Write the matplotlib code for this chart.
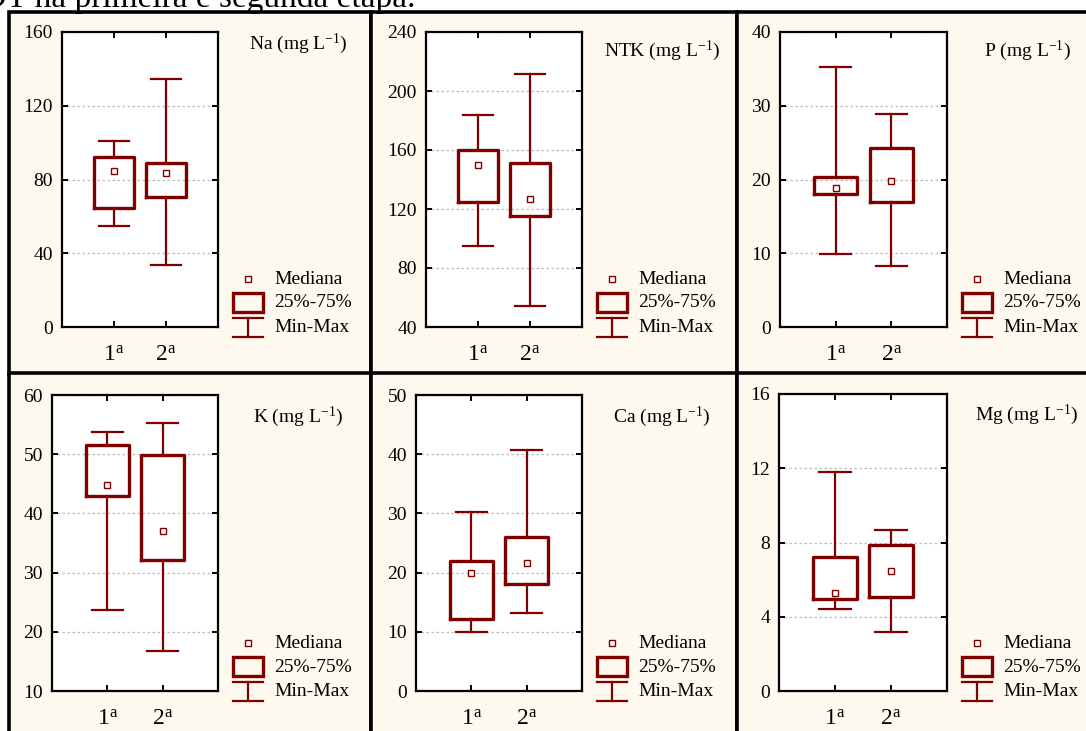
import matplotlib
matplotlib.use("Agg")
import matplotlib.pyplot as plt
from matplotlib.patches import Rectangle
from matplotlib.lines import Line2D
import numpy as np

plt.rcParams['font.family'] = ['Liberation Serif', 'DejaVu Serif']
plt.rcParams['mathtext.fontset'] = 'custom'
plt.rcParams['mathtext.rm'] = 'Liberation Serif'
plt.rcParams['mathtext.it'] = 'Liberation Serif:italic'
plt.rcParams['mathtext.bf'] = 'Liberation Serif:bold'

# ---------------- data ----------------
variables = ["Na", "NTK", "P", "K", "Ca", "Mg"]
stages = ["1$^{\\mathrm{a}}$", "2$^{\\mathrm{a}}$"]
vmin = [[55.0, 33.8], [94.7, 54.0], [9.9, 8.3], [23.7, 16.8], [9.9, 13.1], [4.4, 3.2]]
vq1 = [[64.5, 70.5], [124.7, 115.3], [18.0, 16.9], [43.0, 32.2], [12.2, 18.1], [4.95, 5.04]]
vmed = [[84.4, 83.4], [149.6, 126.6], [18.9, 19.75], [44.8, 37.0], [19.9, 21.6], [5.29, 6.46]]
vq3 = [[92.2, 88.8], [160.2, 151.4], [20.4, 24.3], [51.6, 49.8], [21.9, 26.0], [7.21, 7.86]]
vmax = [[100.7, 134.3], [183.5, 211.8], [35.2, 28.9], [53.8, 55.2], [30.2, 40.7], [11.8, 8.7]]
ylims = [(0, 160), (40, 240), (0, 40), (10, 60), (0, 50), (0, 16)]
ysteps = [40, 40, 10, 10, 10, 4]
legend_labels = ["Mediana", "25%-75%", "Min-Max"]
header_text = "EDT na primeira e segunda etapa."

# ---------------- layout (pixels) ----------------
W, H = 1086, 731
RED = '#800000'
CREAM = '#FDF9EE'

def fx(x):
    return x / W

def fy(y):
    return 1 - y / H

fig = plt.figure(figsize=(W / 100, H / 100), dpi=100)
fig.patch.set_facecolor('white')

# panel frames (x0, y0, x1, y1)
panels = [(8.5, 12, 370.5, 373.5), (370.5, 12, 736.5, 373.5), (736.5, 12, 1100, 373.5),
          (8.5, 373.5, 370.5, 745), (370.5, 373.5, 736.5, 745), (736.5, 373.5, 1100, 745)]
for (x0, y0, x1, y1) in panels:
    fig.patches.append(Rectangle((fx(x0), fy(y1)), (x1 - x0) / W, (y1 - y0) / H,
                                 transform=fig.transFigure, facecolor=CREAM,
                                 edgecolor='black', linewidth=2.6, zorder=-5))

# axes boxes (left, top, right, bottom)
axes_px = [(62, 32, 218, 327), (426, 32, 582, 327), (780, 32, 947, 327),
           (52, 395, 218, 691), (416, 395, 582, 691), (779, 394, 947, 691)]
title_y = [44, 51, 51, 417, 416.5, 415]

fig.text(fx(416), fy(6.5), header_text, ha='right', va='baseline', fontsize=24)

for i, var in enumerate(variables):
    l, t, r, b = axes_px[i]
    ax = fig.add_axes([fx(l), fy(b), (r - l) / W, (b - t) / H])
    ax.set_zorder(2)
    ax.set_facecolor('white')
    stats = []
    for j in range(2):
        stats.append(dict(med=vmed[i][j], q1=vq1[i][j], q3=vq3[i][j],
                          whislo=vmin[i][j], whishi=vmax[i][j], mean=vmed[i][j],
                          fliers=[], label=stages[j]))
    ax.bxp(stats, positions=[1, 2], widths=0.78, capwidths=0.56,
           showmeans=True, showfliers=False, manage_ticks=False,
           boxprops=dict(color=RED, linewidth=2.4),
           whiskerprops=dict(color=RED, linewidth=1.6),
           capprops=dict(color=RED, linewidth=1.6),
           medianprops=dict(linestyle='none'),
           meanprops=dict(marker='s', markerfacecolor='white', markeredgecolor=RED,
                          markersize=4, markeredgewidth=1.0))
    ax.set_xlim(0, 3)
    ax.set_ylim(*ylims[i])
    ax.set_yticks(np.arange(ylims[i][0], ylims[i][1] + 0.001, ysteps[i]))
    ax.set_xticks([1, 2])
    ax.set_xticklabels(stages, fontsize=17)
    ax.tick_params(axis='y', direction='in', left=True, right=True, length=4,
                   width=1.4, labelsize=14, pad=6.5)
    ax.tick_params(axis='x', direction='in', top=True, bottom=True, length=4,
                   width=1.4, pad=13)
    ax.yaxis.grid(True, color='#BDBDBD', linestyle=(0, (2, 2)), linewidth=0.9)
    ax.set_axisbelow(True)
    for s in ax.spines.values():
        s.set_linewidth(1.6)
        s.set_color('black')

    # title
    fig.text(fx(r + 80), fy(title_y[i]), var + " (mg L$^{-1}$)", ha='center',
             va='center', fontsize=14)

    # legend
    cx = r + 30
    fig.add_artist(Line2D([fx(cx)], [fy(b - 48)], marker='s', markersize=4,
                          markerfacecolor='white', markeredgecolor=RED,
                          markeredgewidth=1.0, transform=fig.transFigure))
    fig.patches.append(Rectangle((fx(cx - 15), fy(b - 15)), 30 / W, 19 / H,
                                 transform=fig.transFigure, facecolor='none',
                                 edgecolor=RED, linewidth=2.4))
    fig.add_artist(Line2D([fx(cx - 15), fx(cx + 15)], [fy(b - 9), fy(b - 9)],
                          color=RED, linewidth=1.6, transform=fig.transFigure))
    fig.add_artist(Line2D([fx(cx - 15), fx(cx + 15)], [fy(b + 10), fy(b + 10)],
                          color=RED, linewidth=1.6, transform=fig.transFigure))
    fig.add_artist(Line2D([fx(cx), fx(cx)], [fy(b - 9), fy(b + 10)],
                          color=RED, linewidth=1.6, transform=fig.transFigure))
    for k, dy in enumerate([-48, -24, 1]):
        fig.text(fx(r + 56), fy(b + dy), legend_labels[k], ha='left',
                 va='center', fontsize=14)

fig.savefig('out.png', dpi=100, facecolor='white')
